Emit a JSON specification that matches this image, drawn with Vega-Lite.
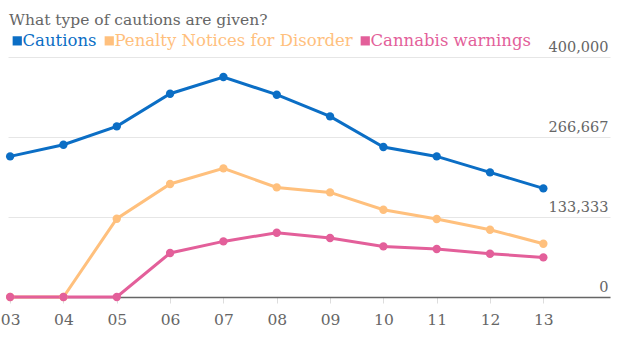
{
  "$schema": "https://vega.github.io/schema/vega-lite/v6.json",
  "width": 602,
  "height": 240,
  "autosize": "none",
  "padding": {"left": 8, "top": 57, "right": 10, "bottom": 52},
  "background": "white",
  "config": {
    "view": {"stroke": null},
    "font": "DejaVu Serif"
  },
  "data": {
    "values": [
      {"year": 2003, "series": "Cautions", "value": 234333},
      {"year": 2004, "series": "Cautions", "value": 253833},
      {"year": 2005, "series": "Cautions", "value": 284333},
      {"year": 2006, "series": "Cautions", "value": 338833},
      {"year": 2007, "series": "Cautions", "value": 366667},
      {"year": 2008, "series": "Cautions", "value": 337167},
      {"year": 2009, "series": "Cautions", "value": 301000},
      {"year": 2010, "series": "Cautions", "value": 250000},
      {"year": 2011, "series": "Cautions", "value": 234333},
      {"year": 2012, "series": "Cautions", "value": 207667},
      {"year": 2013, "series": "Cautions", "value": 181000},
      {"year": 2003, "series": "Penalty Notices for Disorder", "value": 0},
      {"year": 2004, "series": "Penalty Notices for Disorder", "value": 0},
      {"year": 2005, "series": "Penalty Notices for Disorder", "value": 130500},
      {"year": 2006, "series": "Penalty Notices for Disorder", "value": 188333},
      {"year": 2007, "series": "Penalty Notices for Disorder", "value": 214333},
      {"year": 2008, "series": "Penalty Notices for Disorder", "value": 182667},
      {"year": 2009, "series": "Penalty Notices for Disorder", "value": 174333},
      {"year": 2010, "series": "Penalty Notices for Disorder", "value": 145500},
      {"year": 2011, "series": "Penalty Notices for Disorder", "value": 130000},
      {"year": 2012, "series": "Penalty Notices for Disorder", "value": 112167},
      {"year": 2013, "series": "Penalty Notices for Disorder", "value": 88833},
      {"year": 2003, "series": "Cannabis warnings", "value": 0},
      {"year": 2004, "series": "Cannabis warnings", "value": 0},
      {"year": 2005, "series": "Cannabis warnings", "value": 0},
      {"year": 2006, "series": "Cannabis warnings", "value": 73333},
      {"year": 2007, "series": "Cannabis warnings", "value": 92667},
      {"year": 2008, "series": "Cannabis warnings", "value": 107167},
      {"year": 2009, "series": "Cannabis warnings", "value": 98333},
      {"year": 2010, "series": "Cannabis warnings", "value": 84333},
      {"year": 2011, "series": "Cannabis warnings", "value": 80000},
      {"year": 2012, "series": "Cannabis warnings", "value": 72167},
      {"year": 2013, "series": "Cannabis warnings", "value": 66000}
    ]
  },
  "encoding": {
    "x": {
      "field": "year",
      "type": "quantitative",
      "scale": {"domain": [2002.96, 2014.25], "nice": false, "zero": false},
      "axis": {
        "title": null,
        "values": [2003, 2004, 2005, 2006, 2007, 2008, 2009, 2010, 2011, 2012, 2013],
        "labelExpr": "slice(format(datum.value, 'd'), 2)",
        "grid": false,
        "domainColor": "#666666",
        "domainWidth": 1.5,
        "tickColor": "#dddddd",
        "tickSize": 6,
        "labelPadding": 9,
        "labelFontSize": 15.5,
        "labelColor": "#666666",
        "labelFont": "DejaVu Serif"
      }
    },
    "y": {
      "field": "value",
      "type": "quantitative",
      "scale": {"domain": [0, 400000], "nice": false},
      "axis": {
        "title": null,
        "orient": "right",
        "values": [0, 133333.33, 266666.67, 400000],
        "format": ",.0f",
        "domain": false,
        "ticks": false,
        "gridColor": "#e6e6e6",
        "gridWidth": 1,
        "labelAlign": "right",
        "labelBaseline": "bottom",
        "labelPadding": -2,
        "labelOffset": -3,
        "labelFontSize": 14.5,
        "labelColor": "#666666",
        "labelFont": "DejaVu Serif"
      }
    },
    "color": {
      "field": "series",
      "type": "nominal",
      "scale": {
        "domain": ["Cautions", "Penalty Notices for Disorder", "Cannabis warnings"],
        "range": ["#0b6ec5", "#ffc07d", "#e35f9a"]
      },
      "legend": {
        "title": "What type of cautions are given?",
        "orient": "none",
        "legendX": 1,
        "legendY": -44,
        "direction": "horizontal",
        "symbolType": "square",
        "symbolSize": 85,
        "symbolStrokeWidth": 0,
        "symbolOpacity": 1,
        "labelFontSize": 16.5,
        "labelFont": "DejaVu Serif",
        "labelOffset": -3,
        "columnPadding": 4,
        "titleFontSize": 15.5,
        "titleFont": "DejaVu Serif",
        "titleFontWeight": "normal",
        "titleColor": "#666666",
        "titlePadding": 4,
        "titleLimit": 600,
        "labelLimit": 400,
        "encode": {
          "labels": {"update": {"fill": {"scale": "color", "field": "value"}}},
          "symbols": {"update": {"fill": {"scale": "color", "field": "value"}, "shape": {"value": "square"}}}
        }
      }
    }
  },
  "layer": [
    {"mark": {"type": "line", "strokeWidth": 3}},
    {"mark": {"type": "point", "filled": true, "size": 70, "opacity": 1}}
  ]
}
